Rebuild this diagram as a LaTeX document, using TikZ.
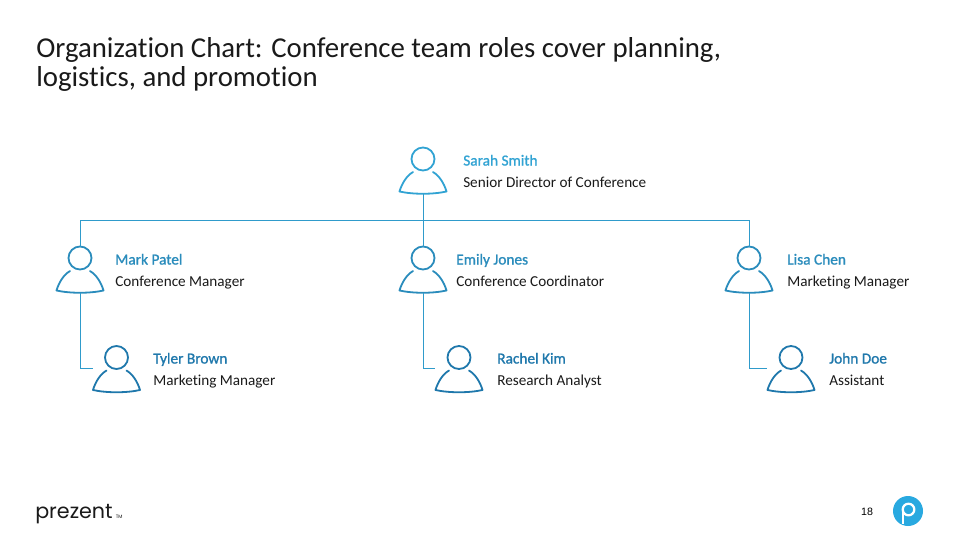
\documentclass[tikz,border=0pt]{standalone}
\usepackage{fontspec}
\setmainfont[Ligatures=NoCommon]{Carlito}
\newfontfamily\namefont[Ligatures=NoCommon,FakeBold=1.1]{Carlito}
\newfontfamily\logofont{Poppins}
\newfontfamily\numfont{Liberation Sans}
\definecolor{linecol}{HTML}{2F9BCB}
\definecolor{topcol}{HTML}{31A3D3}
\definecolor{midcol}{HTML}{2A8CBC}
\definecolor{lowcol}{HTML}{1F78AC}
\definecolor{inktext}{HTML}{1A1A1A}
\definecolor{badge}{HTML}{29A9E0}
\tikzset{
  x=0.75pt,y=-0.75pt,
  link/.style={draw=linecol,line width=0.75pt},
  nametext/.style={anchor=base west,font=\namefont\fontsize{11.5pt}{13pt}\selectfont,inner sep=0pt},
  roletext/.style={anchor=base west,font=\fontsize{11.4pt}{13pt}\selectfont,text=inktext,inner sep=0pt},
  titletext/.style={anchor=base west,inner sep=0pt,text=inktext,font=\fontsize{21.6pt}{25pt}\selectfont},
}
\tikzset{pics/who/.style={code={
    \draw[line width=1.35pt,draw=#1] (0,-1) circle[radius=11.5];
    \draw[line width=1.35pt,draw=#1,line join=round,line cap=round]
      (-10,12) .. controls (-16,15.5) and (-21,23) .. (-23.5,31.5)
      .. controls (-10,34.5) and (10,34.5) .. (23.5,31.5)
      .. controls (21,23) and (16,15.5) .. (10,12);
    \coordinate (-top) at (0,-12.5);
    \coordinate (-bottom) at (0,34);
    \coordinate (-left) at (-24,10);
}}}
\begin{document}
\begin{tikzpicture}
\useasboundingbox (0,0) rectangle (960,540);
\fill[white] (0,0) rectangle (960,540);
% title
\node[titletext] (title) at (36,57) {Organization Chart: Conference team roles cover planning,};
\node[titletext] (title2) at (36,86) {logistics, and promotion};
% people
\pic (sarah) at (423,160) {who=topcol};
\pic (mark) at (80,259) {who=midcol};
\pic (emily) at (423,259) {who=midcol};
\pic (lisa) at (749,259) {who=midcol};
\pic (tyler) at (116.5,358.5) {who=lowcol};
\pic (rachel) at (459,358.5) {who=lowcol};
\pic (john) at (791,358.5) {who=lowcol};
% connectors
\coordinate (bus) at (423,220.5);
\draw[link] (sarah-bottom) -- (emily-top);
\draw[link] (mark-top) |- (bus) -| (lisa-top);
\draw[link] (mark-bottom) |- (tyler-left);
\draw[link] (emily-bottom) |- (rachel-left);
\draw[link] (lisa-bottom) |- (john-left);
% labels
\node[nametext,text=topcol] (n1) at (463,165.5) {Sarah Smith};
\node[roletext] (r1) at (463,187) {Senior Director of Conference};
\node[nametext,text=midcol] (n2) at (115,264.5) {Mark Patel};
\node[roletext] (r2) at (115,286) {Conference Manager};
\node[nametext,text=midcol] (n3) at (456,264.5) {Emily Jones};
\node[roletext] (r3) at (456,286) {Conference Coordinator};
\node[nametext,text=midcol] (n4) at (787,264.5) {Lisa Chen};
\node[roletext] (r4) at (787,286) {Marketing Manager};
\node[nametext,text=lowcol] (n5) at (153,363.5) {Tyler Brown};
\node[roletext] (r5) at (153,385) {Marketing Manager};
\node[nametext,text=lowcol] (n6) at (497,363.5) {Rachel Kim};
\node[roletext] (r6) at (497,385) {Research Analyst};
\node[nametext,text=lowcol] (n7) at (829,363.5) {John Doe};
\node[roletext] (r7) at (829,385) {Assistant};
% footer
\node[anchor=base west,inner sep=0pt,text=inktext,font=\logofont\fontsize{15.5pt}{16pt}\selectfont] (logo) at (35,518) {prezent};
\node[anchor=base west,inner sep=0pt,text=inktext,font=\logofont\fontsize{3.6pt}{4pt}\selectfont] (tm) at (115.5,518) {TM};
\node[anchor=base,inner sep=0pt,text=black,font=\numfont\fontsize{8pt}{10pt}\selectfont] (pageno) at (867,515.5) {18};
\fill[badge] (908,511) circle[radius=15];
\draw[white,line width=1.7pt] (908.5,509.5) circle[radius=5.8];
\draw[white,line width=1.7pt] (902.7,509.5) -- (902.7,524);
\end{tikzpicture}
\end{document}
